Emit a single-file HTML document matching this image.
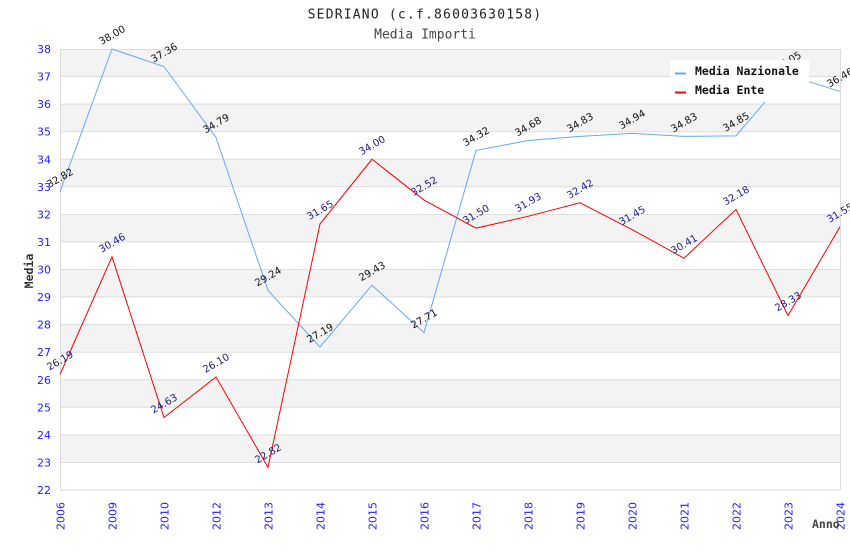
<!DOCTYPE html>
<html><head><meta charset="utf-8"><style>
html,body{margin:0;padding:0;background:#fff;}
svg{display:block;}
.t{font-family:"DejaVu Sans Mono","Liberation Mono",monospace;}
.s{font-family:"DejaVu Sans","Liberation Sans",sans-serif;}
</style></head><body>
<svg width="850" height="550" viewBox="0 0 850 550" xmlns="http://www.w3.org/2000/svg">
<rect width="850" height="550" fill="#fff"/>
<g fill="#f3f3f3">
<rect x="60" y="49" width="780" height="27.56"/>
<rect x="60" y="104.13" width="780" height="27.56"/>
<rect x="60" y="159.25" width="780" height="27.56"/>
<rect x="60" y="214.38" width="780" height="27.56"/>
<rect x="60" y="269.5" width="780" height="27.56"/>
<rect x="60" y="324.63" width="780" height="27.56"/>
<rect x="60" y="379.75" width="780" height="27.56"/>
<rect x="60" y="434.88" width="780" height="27.56"/>
</g>
<g stroke="#dddddd" stroke-width="1">
<line x1="60" x2="840" y1="49.5" y2="49.5"/>
<line x1="60" x2="840" y1="76.56" y2="76.56"/>
<line x1="60" x2="840" y1="104.13" y2="104.13"/>
<line x1="60" x2="840" y1="131.69" y2="131.69"/>
<line x1="60" x2="840" y1="159.25" y2="159.25"/>
<line x1="60" x2="840" y1="186.81" y2="186.81"/>
<line x1="60" x2="840" y1="214.38" y2="214.38"/>
<line x1="60" x2="840" y1="241.94" y2="241.94"/>
<line x1="60" x2="840" y1="269.5" y2="269.5"/>
<line x1="60" x2="840" y1="297.06" y2="297.06"/>
<line x1="60" x2="840" y1="324.63" y2="324.63"/>
<line x1="60" x2="840" y1="352.19" y2="352.19"/>
<line x1="60" x2="840" y1="379.75" y2="379.75"/>
<line x1="60" x2="840" y1="407.31" y2="407.31"/>
<line x1="60" x2="840" y1="434.88" y2="434.88"/>
<line x1="60" x2="840" y1="462.44" y2="462.44"/>
<line x1="60" x2="840" y1="490" y2="490"/>
<line x1="60.5" x2="60.5" y1="49" y2="490"/>
<line x1="840.5" x2="840.5" y1="49" y2="490"/>
</g>
<g class="s" font-size="11" fill="#1f1fff" text-anchor="end">
<text x="51" y="53">38</text><text x="51" y="80.6">37</text><text x="51" y="108.1">36</text><text x="51" y="135.7">35</text>
<text x="51" y="163.3">34</text><text x="51" y="190.8">33</text><text x="51" y="218.4">32</text><text x="51" y="245.9">31</text>
<text x="51" y="273.5">30</text><text x="51" y="301.1">29</text><text x="51" y="328.6">28</text><text x="51" y="356.2">27</text>
<text x="51" y="383.8">26</text><text x="51" y="411.3">25</text><text x="51" y="438.9">24</text><text x="51" y="466.4">23</text>
<text x="51" y="494">22</text>
</g>
<g class="s" font-size="11" fill="#1f1fff" text-anchor="end">
<text transform="translate(64.5,502) rotate(-90)">2006</text>
<text transform="translate(116.5,502) rotate(-90)">2009</text>
<text transform="translate(168.5,502) rotate(-90)">2010</text>
<text transform="translate(220.5,502) rotate(-90)">2012</text>
<text transform="translate(272.5,502) rotate(-90)">2013</text>
<text transform="translate(324.5,502) rotate(-90)">2014</text>
<text transform="translate(376.5,502) rotate(-90)">2015</text>
<text transform="translate(428.5,502) rotate(-90)">2016</text>
<text transform="translate(480.5,502) rotate(-90)">2017</text>
<text transform="translate(532.5,502) rotate(-90)">2018</text>
<text transform="translate(584.5,502) rotate(-90)">2019</text>
<text transform="translate(636.5,502) rotate(-90)">2020</text>
<text transform="translate(688.5,502) rotate(-90)">2021</text>
<text transform="translate(740.5,502) rotate(-90)">2022</text>
<text transform="translate(792.5,502) rotate(-90)">2023</text>
<text transform="translate(844.5,502) rotate(-90)">2024</text>
</g>
<polyline fill="none" stroke="#66aaf0" stroke-width="1" points="60,191.77 112,49 164,66.64 216,137.48 268,290.45 320,346.95 372,285.21 424,332.62 476,150.43 528,140.51 580,136.37 632,133.34 684,136.37 736,135.82 788,75.18 840,91.45"/>
<polyline fill="none" stroke="#ff0000" stroke-width="1" points="60,374.51 112,256.82 164,417.51 216,376.99 268,467.4 320,224.02 372,159.25 424,200.04 476,228.16 528,216.3 580,202.8 632,229.53 684,258.2 736,209.41 788,315.53 840,226.78"/>
<g class="s" font-size="10" fill="#111" text-anchor="middle">
<text transform="translate(60,177.8) rotate(-30)" dy="0.35em">32.82</text>
<text transform="translate(112,35) rotate(-30)" dy="0.35em">38.00</text>
<text transform="translate(164,52.6) rotate(-30)" dy="0.35em">37.36</text>
<text transform="translate(216,123.5) rotate(-30)" dy="0.35em">34.79</text>
<text transform="translate(268,276.5) rotate(-30)" dy="0.35em">29.24</text>
<text transform="translate(320,333) rotate(-30)" dy="0.35em">27.19</text>
<text transform="translate(372,271.2) rotate(-30)" dy="0.35em">29.43</text>
<text transform="translate(424,318.6) rotate(-30)" dy="0.35em">27.71</text>
<text transform="translate(476,136.4) rotate(-30)" dy="0.35em">34.32</text>
<text transform="translate(528,126.5) rotate(-30)" dy="0.35em">34.68</text>
<text transform="translate(580,122.4) rotate(-30)" dy="0.35em">34.83</text>
<text transform="translate(632,119.3) rotate(-30)" dy="0.35em">34.94</text>
<text transform="translate(684,122.4) rotate(-30)" dy="0.35em">34.83</text>
<text transform="translate(736,121.8) rotate(-30)" dy="0.35em">34.85</text>
<text transform="translate(788,61.2) rotate(-30)" dy="0.35em">37.05</text>
<text transform="translate(840,77.5) rotate(-30)" dy="0.35em">36.46</text>
</g>
<g class="s" font-size="10" fill="#1a1a8c" text-anchor="middle">
<text transform="translate(60,360.5) rotate(-30)" dy="0.35em">26.19</text>
<text transform="translate(112,242.8) rotate(-30)" dy="0.35em">30.46</text>
<text transform="translate(164,403.5) rotate(-30)" dy="0.35em">24.63</text>
<text transform="translate(216,363) rotate(-30)" dy="0.35em">26.10</text>
<text transform="translate(268,453.4) rotate(-30)" dy="0.35em">22.82</text>
<text transform="translate(320,210) rotate(-30)" dy="0.35em">31.65</text>
<text transform="translate(372,145.2) rotate(-30)" dy="0.35em">34.00</text>
<text transform="translate(424,186) rotate(-30)" dy="0.35em">32.52</text>
<text transform="translate(476,214.2) rotate(-30)" dy="0.35em">31.50</text>
<text transform="translate(528,202.3) rotate(-30)" dy="0.35em">31.93</text>
<text transform="translate(580,188.8) rotate(-30)" dy="0.35em">32.42</text>
<text transform="translate(632,215.5) rotate(-30)" dy="0.35em">31.45</text>
<text transform="translate(684,244.2) rotate(-30)" dy="0.35em">30.41</text>
<text transform="translate(736,195.4) rotate(-30)" dy="0.35em">32.18</text>
<text transform="translate(788,301.5) rotate(-30)" dy="0.35em">28.33</text>
<text transform="translate(840,212.8) rotate(-30)" dy="0.35em">31.55</text>
</g>
<rect x="670" y="60" width="139" height="42" fill="#fff"/>
<line x1="675" x2="686" y1="73.5" y2="73.5" stroke="#66aaf0" stroke-width="2"/>
<line x1="675" x2="686" y1="92.5" y2="92.5" stroke="#ff0000" stroke-width="2"/>
<g class="t" font-size="11.5" font-weight="bold" fill="#111">
<text x="695" y="75">Media Nazionale</text>
<text x="695" y="94">Media Ente</text>
</g>
<text class="t" x="425" y="18.5" font-size="13" letter-spacing="1.2" fill="#222" text-anchor="middle">SEDRIANO (c.f.86003630158)</text>
<text class="t" x="425" y="38.5" font-size="13" fill="#444" text-anchor="middle">Media Importi</text>
<text class="t" transform="translate(33,271) rotate(-90)" font-size="11.5" font-weight="bold" fill="#333" text-anchor="middle">Media</text>
<text class="t" x="812" y="528" font-size="11.5" font-weight="bold" fill="#444">Anno</text>
</svg>
</body></html>
